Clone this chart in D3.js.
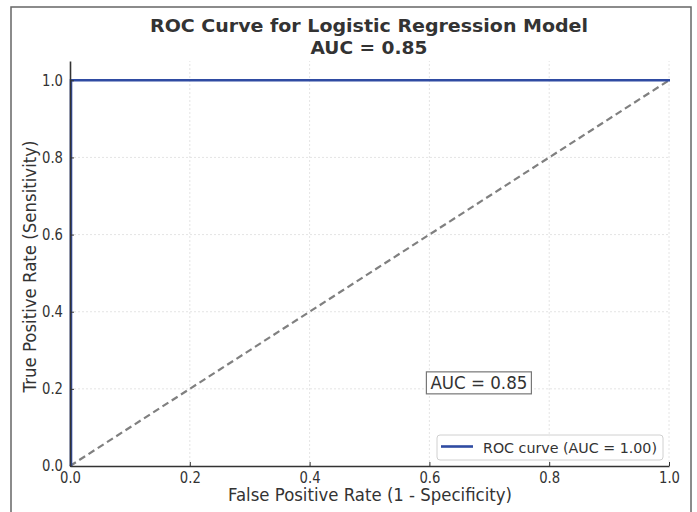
<!DOCTYPE html>
<html>
<head>
<meta charset="utf-8">
<script src="https://cdn.jsdelivr.net/npm/d3@7"></script>
<style>
  html, body { margin: 0; padding: 0; background: #fff; }
  svg { display: block; font-family: "DejaVu Sans", sans-serif; }
</style>
</head>
<body>
<div id="chart"></div>
<script>
// ROC points
const fpr = [0, 0, 1];
const tpr = [0, 1, 1];
// chance diagonal
const chanceX = [0, 1];
const chanceY = [0, 1];

const xTicks = [0, 0.2, 0.4, 0.6, 0.8, 1.0];
const yTicks = [0, 0.2, 0.4, 0.6, 0.8, 1.0];

const titleLines = ["ROC Curve for Logistic Regression Model", "AUC = 0.85"];
const xLabel = "False Positive Rate (1 - Specificity)";
const yLabel = "True Positive Rate (Sensitivity)";
const legendLabel = "ROC curve (AUC = 1.00)";
const aucNote = { x: 0.6, y: 0.2, text: "AUC = 0.85" };

const W = 697, H = 512;
const margin = { left: 70, right: 28, top: 61, bottom: 46 };
const textColor = "#333";
const blue = "#2f4ba2";

const svg = d3.select("#chart").append("svg")
    .attr("width", W)
    .attr("height", H);

// outer frame
svg.append("rect")
    .attr("x", 11).attr("y", 7)
    .attr("width", 680).attr("height", 520)
    .attr("fill", "none")
    .attr("stroke", "#666")
    .attr("stroke-width", 1.5);

const x = d3.scaleLinear().domain([0, 1]).range([margin.left, W - margin.right]);
const y = d3.scaleLinear().domain([0, 1.05]).range([H - margin.bottom, margin.top]);

// grid
const grid = svg.append("g")
    .attr("stroke", "#ddd")
    .attr("stroke-width", 0.8)
    .attr("stroke-dasharray", "2,2");
grid.selectAll("line.gx")
    .data(xTicks.slice(1))
    .join("line")
    .attr("x1", (d) => x(d)).attr("x2", (d) => x(d))
    .attr("y1", y(0)).attr("y2", y(1.05));
grid.selectAll("line.gy")
    .data(yTicks.slice(1))
    .join("line")
    .attr("x1", x(0)).attr("x2", x(1))
    .attr("y1", (d) => y(d)).attr("y2", (d) => y(d));

// diagonal
svg.append("path")
    .datum(d3.zip(chanceX, chanceY))
    .attr("fill", "none")
    .attr("stroke", "#808080")
    .attr("stroke-width", 2.2)
    .attr("stroke-dasharray", "7,4")
    .attr("d", d3.line().x((d) => x(d[0])).y((d) => y(d[1])));

// ROC curve
svg.append("path")
    .datum(d3.zip(fpr, tpr))
    .attr("fill", "none")
    .attr("stroke", blue)
    .attr("stroke-width", 2.6)
    .attr("d", d3.line().x((d) => x(d[0]) + 1).y((d) => y(d[1])));

// axes
const xAxis = svg.append("g")
    .attr("transform", `translate(0,${y(0)})`)
    .call(d3.axisBottom(x).tickValues(xTicks).tickFormat(d3.format(".1f"))
        .tickSizeInner(-4).tickSizeOuter(0).tickPadding(6));
const yAxis = svg.append("g")
    .attr("transform", `translate(${x(0)},0)`)
    .call(d3.axisLeft(y).tickValues(yTicks).tickFormat(d3.format(".1f"))
        .tickSizeInner(-4).tickSizeOuter(0).tickPadding(7));

[xAxis, yAxis].forEach((g) => {
    g.select(".domain").attr("stroke", "#333").attr("stroke-width", 1.6);
    g.selectAll(".tick line").attr("stroke", "#333").attr("stroke-width", 1);
    g.selectAll(".tick text")
        .attr("fill", textColor)
        .style("font-size", "15px")
        .style("font-family", "DejaVu Sans, sans-serif")
        .attr("textLength", 21)
        .attr("lengthAdjust", "spacingAndGlyphs");
});

// AUC note with box
const note = svg.append("text")
    .attr("x", x(aucNote.x) + 1)
    .attr("y", y(aucNote.y))
    .attr("fill", textColor)
    .style("font-size", "17px")
    .attr("textLength", 97)
    .attr("lengthAdjust", "spacingAndGlyphs")
    .text(aucNote.text);
const nb = note.node().getBBox();
svg.insert("rect", () => note.node())
    .attr("x", nb.x - 4).attr("y", nb.y - 1)
    .attr("width", nb.width + 8).attr("height", nb.height + 2)
    .attr("fill", "#fff")
    .attr("stroke", "#777")
    .attr("stroke-width", 1.2);

// legend
const lg = svg.append("g").attr("transform", "translate(437,435)");
lg.append("rect")
    .attr("width", 226).attr("height", 25)
    .attr("rx", 3)
    .attr("fill", "#fff")
    .attr("fill-opacity", 0.85)
    .attr("stroke", "#d0d0d0");
lg.append("line")
    .attr("x1", 4).attr("x2", 36)
    .attr("y1", 11.5).attr("y2", 11.5)
    .attr("stroke", blue)
    .attr("stroke-width", 2.6);
lg.append("text")
    .attr("x", 46).attr("y", 17.5)
    .attr("fill", textColor)
    .style("font-size", "14px")
    .attr("textLength", 174)
    .attr("lengthAdjust", "spacingAndGlyphs")
    .text(legendLabel);

// title
svg.selectAll("text.title")
    .data(titleLines)
    .join("text")
    .attr("class", "title")
    .attr("x", 369)
    .attr("y", (d, i) => 32 + i * 22)
    .attr("text-anchor", "middle")
    .attr("fill", textColor)
    .style("font-size", "18px")
    .style("font-weight", "bold")
    .attr("textLength", (d, i) => (i === 0 ? 438 : 117))
    .attr("lengthAdjust", "spacingAndGlyphs")
    .text((d) => d);

// axis labels
svg.append("text")
    .attr("x", 370)
    .attr("y", 501)
    .attr("text-anchor", "middle")
    .attr("fill", textColor)
    .style("font-size", "17px")
    .attr("textLength", 284)
    .attr("lengthAdjust", "spacingAndGlyphs")
    .text(xLabel);

svg.append("text")
    .attr("transform", `translate(36,${(y(0) + y(1.05)) / 2 + 3}) rotate(-90)`)
    .attr("text-anchor", "middle")
    .attr("fill", textColor)
    .style("font-size", "17px")
    .attr("textLength", 252)
    .attr("lengthAdjust", "spacingAndGlyphs")
    .text(yLabel);
</script>
</body>
</html>
